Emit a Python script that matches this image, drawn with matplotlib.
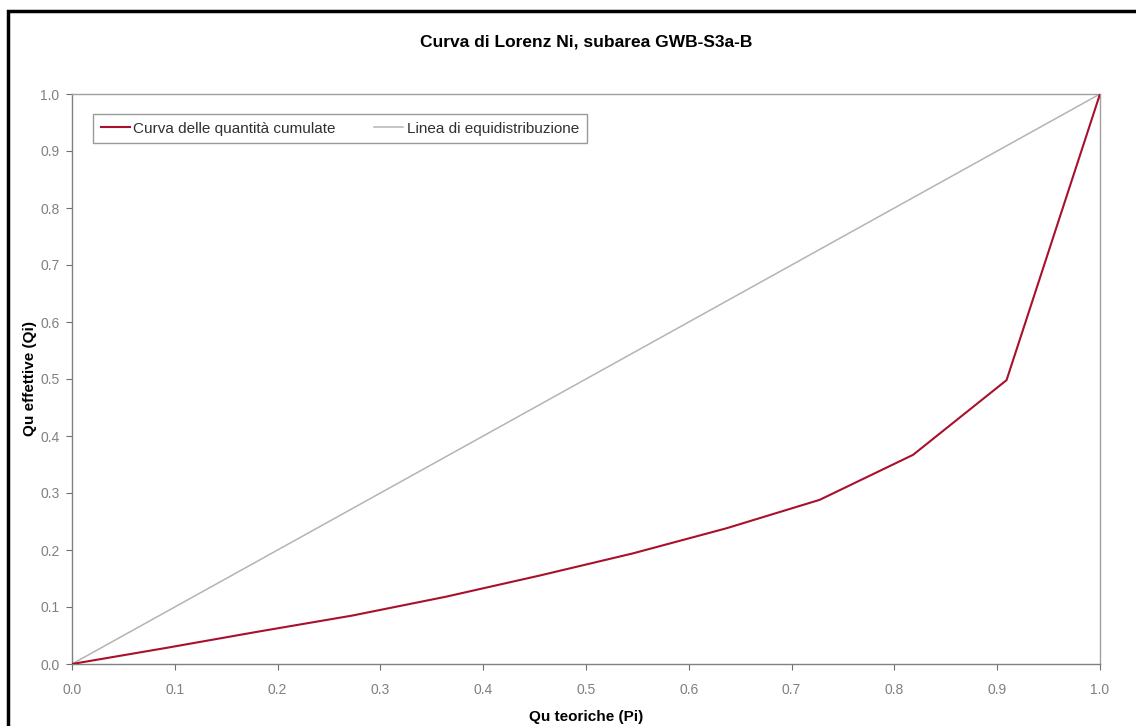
import matplotlib
matplotlib.use('Agg')
import matplotlib.pyplot as plt
from matplotlib.patches import Rectangle

plt.rcParams['font.family'] = ['Liberation Sans', 'DejaVu Sans']

# dati
pi_teoriche = [0.0, 0.0909, 0.1818, 0.2727, 0.3636, 0.4545, 0.5455, 0.6364, 0.7273, 0.8182, 0.9091, 1.0]
qi_effettive = [0.0, 0.028, 0.057, 0.085, 0.118, 0.155, 0.194, 0.238, 0.288, 0.367, 0.498, 1.0]
equi_x = [0.0, 1.0]
equi_y = [0.0, 1.0]
ticks = [0.0, 0.1, 0.2, 0.3, 0.4, 0.5, 0.6, 0.7, 0.8, 0.9, 1.0]
tick_labels = [f"{t:.1f}" for t in ticks]

W, H = 1136, 726
fig = plt.figure(figsize=(W / 100, H / 100), dpi=100)
fig.set_facecolor('white')

# cornice nera (tagliata a destra e in basso come nell'originale)
fig.patches.append(Rectangle((8 / W, -0.05), 1.2, 1 - 11 / H + 0.05,
                             transform=fig.transFigure, fill=False,
                             edgecolor='black', linewidth=2.5))

left, right, top, bottom = 72, 1100, 94, 664
ax = fig.add_axes([left / W, 1 - bottom / H, (right - left) / W, (bottom - top) / H])

ax.plot(pi_teoriche, qi_effettive, color='#a8102c', linewidth=1.5,
        label='Curva delle quantità cumulate', zorder=3)
ax.plot(equi_x, equi_y, color='#b4b4b4', linewidth=1.1,
        label='Linea di equidistribuzione', zorder=2)

ax.set_xlim(0, 1)
ax.set_ylim(0, 1)
ax.set_xticks(ticks)
ax.set_yticks(ticks)
ax.set_xticklabels(tick_labels)
ax.set_yticklabels(tick_labels)
ax.tick_params(direction='out', length=4, width=0.8, colors='#707070',
               labelsize=10, labelcolor='#808080')
ax.tick_params(axis='x', pad=10)
ax.tick_params(axis='y', pad=5)

for side in ['left', 'bottom']:
    ax.spines[side].set_color('#808080')
    ax.spines[side].set_linewidth(1.0)
for side in ['top', 'right']:
    ax.spines[side].set_color('#a0a0a0')
    ax.spines[side].set_linewidth(1.0)

ax.set_xlabel('Qu teoriche (Pi)', fontsize=11, fontweight='bold')
ax.set_ylabel('Qu effettive (Qi)', fontsize=11, fontweight='bold')
ax.xaxis.set_label_coords(0.5, -(717 - bottom) / (bottom - top), transform=ax.transAxes)
ax.yaxis.set_label_coords(-(left - 30) / (right - left), 0.5, transform=ax.transAxes)
ax.xaxis.label.set_va('center')
ax.yaxis.label.set_va('center')

fig.text((left + right) / 2 / W, 1 - 42 / H, 'Curva di Lorenz Ni, subarea GWB-S3a-B',
         ha='center', va='center', fontsize=12.5, fontweight='bold')

leg = ax.legend(loc='upper left', bbox_to_anchor=(21 / 1028, 1 - 20 / 570),
                ncol=2, fontsize=11, frameon=True, fancybox=False,
                borderaxespad=0, handlelength=1.9, columnspacing=2.5,
                borderpad=0.5, handletextpad=0.25)
leg.get_frame().set_edgecolor('#808080')
leg.get_frame().set_linewidth(1.0)
for t in leg.get_texts():
    t.set_color('#303030')

fig.savefig('out.png', dpi=100)
